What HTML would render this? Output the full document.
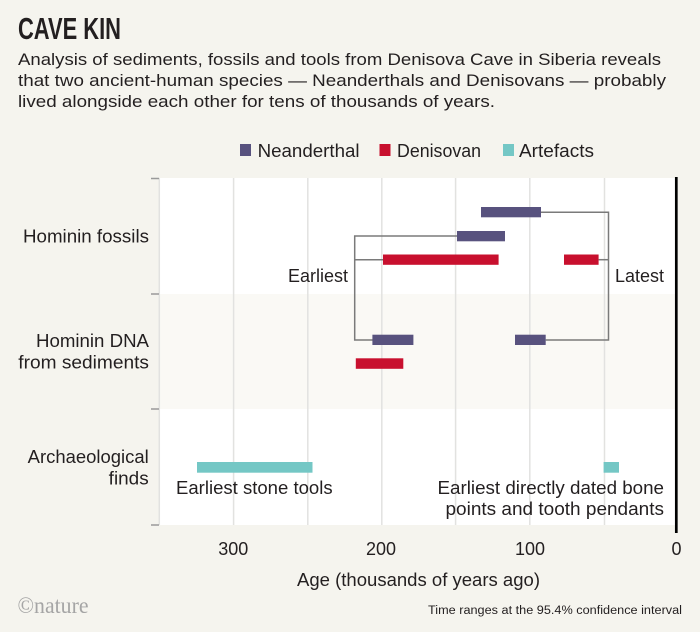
<!DOCTYPE html>
<html><head><meta charset="utf-8"><style>
html,body{margin:0;padding:0;background:#f5f4ee;}
svg{display:block;}
text{font-family:"Liberation Sans",sans-serif;fill:#231f20;}
</style></head><body>
<svg width="700" height="632" viewBox="0 0 700 632" xmlns="http://www.w3.org/2000/svg">
<rect x="0" y="0" width="700" height="632" fill="#f5f4ee"/>
<text x="18" y="39" font-size="31" font-weight="bold" textLength="103" lengthAdjust="spacingAndGlyphs">CAVE KIN</text>
<text x="18" y="65" font-size="17" textLength="643" lengthAdjust="spacingAndGlyphs">Analysis of sediments, fossils and tools from Denisova Cave in Siberia reveals</text>
<text x="18" y="86" font-size="17" textLength="648" lengthAdjust="spacingAndGlyphs">that two ancient-human species — Neanderthals and Denisovans — probably</text>
<text x="18" y="107" font-size="17" textLength="477" lengthAdjust="spacingAndGlyphs">lived alongside each other for tens of thousands of years.</text>

<rect x="240" y="144" width="11" height="12" fill="#58527e"/>
<text x="257.6" y="157" font-size="18" textLength="102" lengthAdjust="spacingAndGlyphs">Neanderthal</text>
<rect x="379.5" y="144" width="11" height="12" fill="#c8102e"/>
<text x="397" y="157" font-size="18" textLength="84" lengthAdjust="spacingAndGlyphs">Denisovan</text>
<rect x="503" y="144" width="11" height="12" fill="#74c7c5"/>
<text x="519" y="157" font-size="18" textLength="75" lengthAdjust="spacingAndGlyphs">Artefacts</text>

<rect x="159" y="178" width="517" height="116" fill="#ffffff"/>
<rect x="159" y="294" width="517" height="115" fill="#faf9f5"/>
<rect x="159" y="409" width="517" height="116" fill="#ffffff"/>

<g stroke="#e2e2e0" stroke-width="1.5">
<line x1="159.3" y1="178" x2="159.3" y2="525"/>
<line x1="233.6" y1="178" x2="233.6" y2="525"/>
<line x1="307.8" y1="178" x2="307.8" y2="525"/>
<line x1="381.8" y1="178" x2="381.8" y2="525"/>
<line x1="455.6" y1="178" x2="455.6" y2="525"/>
<line x1="529.8" y1="178" x2="529.8" y2="525"/>
<line x1="604.5" y1="178" x2="604.5" y2="525"/>
</g>
<g stroke="#9a9a9a" stroke-width="1.5">
<line x1="151" y1="178.5" x2="159" y2="178.5"/>
<line x1="151" y1="294" x2="159" y2="294"/>
<line x1="151" y1="409" x2="159" y2="409"/>
<line x1="151" y1="525" x2="159" y2="525"/>
</g>
<line x1="676.3" y1="177" x2="676.3" y2="533" stroke="#000" stroke-width="2.7"/>

<g fill="none" stroke="#7a7a7a" stroke-width="1.5">
<polyline points="541,212.3 608.5,212.3 608.5,340 545.7,340"/>
<polyline points="457,236 354.7,236 354.7,340 372.5,340"/>
<line x1="354.7" y1="259.7" x2="383" y2="259.7"/>
<line x1="598.6" y1="259.7" x2="608.5" y2="259.7"/>
</g>

<rect x="481" y="207" width="60" height="10.3" fill="#58527e"/>
<rect x="457" y="231" width="48" height="10.3" fill="#58527e"/>
<rect x="383" y="254.5" width="115.6" height="10.3" fill="#c8102e"/>
<rect x="564" y="254.5" width="34.6" height="10.3" fill="#c8102e"/>
<rect x="372.4" y="334.7" width="41" height="10.3" fill="#58527e"/>
<rect x="515" y="334.7" width="30.7" height="10.3" fill="#58527e"/>
<rect x="355.8" y="358.3" width="47.5" height="10.5" fill="#c8102e"/>
<rect x="197" y="462" width="115.5" height="10.7" fill="#74c7c5"/>
<rect x="603.6" y="462" width="15.4" height="10.7" fill="#74c7c5"/>

<text x="348" y="282" font-size="18" text-anchor="end" textLength="60" lengthAdjust="spacingAndGlyphs">Earliest</text>
<text x="615" y="282" font-size="18" textLength="49" lengthAdjust="spacingAndGlyphs">Latest</text>

<text x="149" y="242.5" font-size="18" text-anchor="end" textLength="126" lengthAdjust="spacingAndGlyphs">Hominin fossils</text>
<text x="149" y="347" font-size="18" text-anchor="end" textLength="113" lengthAdjust="spacingAndGlyphs">Hominin DNA</text>
<text x="149" y="368.5" font-size="18" text-anchor="end" textLength="130.7" lengthAdjust="spacingAndGlyphs">from sediments</text>
<text x="148.7" y="463" font-size="18" text-anchor="end" textLength="121" lengthAdjust="spacingAndGlyphs">Archaeological</text>
<text x="148.7" y="484.5" font-size="18" text-anchor="end" textLength="40" lengthAdjust="spacingAndGlyphs">finds</text>

<text x="176" y="494" font-size="18" textLength="156.6" lengthAdjust="spacingAndGlyphs">Earliest stone tools</text>
<text x="664" y="494" font-size="18" text-anchor="end" textLength="226.5" lengthAdjust="spacingAndGlyphs">Earliest directly dated bone</text>
<text x="664" y="515" font-size="18" text-anchor="end" textLength="218.5" lengthAdjust="spacingAndGlyphs">points and tooth pendants</text>

<text x="233.3" y="555" font-size="18" text-anchor="middle">300</text>
<text x="381" y="555" font-size="18" text-anchor="middle">200</text>
<text x="530" y="555" font-size="18" text-anchor="middle">100</text>
<text x="676.5" y="555" font-size="18" text-anchor="middle">0</text>
<text x="297" y="586" font-size="18" textLength="243" lengthAdjust="spacingAndGlyphs">Age (thousands of years ago)</text>

<text x="17.5" y="613" font-size="23" font-family="Liberation Serif, serif" fill="#a5a5a5" style="font-family:'Liberation Serif',serif;fill:#a5a5a5" textLength="71" lengthAdjust="spacingAndGlyphs">©nature</text>
<text x="682" y="614" font-size="11.5" text-anchor="end" textLength="254" lengthAdjust="spacingAndGlyphs">Time ranges at the 95.4% confidence interval</text>
</svg>
</body></html>
